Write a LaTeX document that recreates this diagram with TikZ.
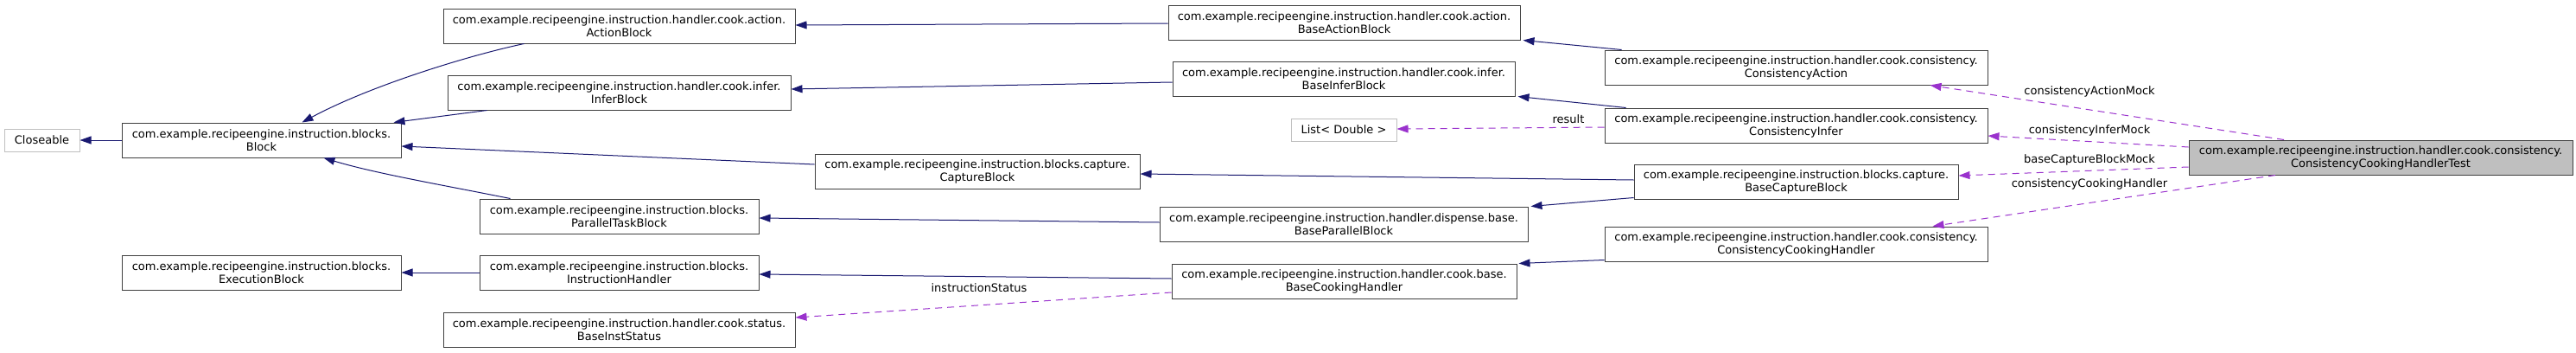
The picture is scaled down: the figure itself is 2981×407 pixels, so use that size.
\documentclass[tikz,border=0pt]{standalone}
\usepackage{fontspec}
\setmainfont{DejaVu Sans}
\usetikzlibrary{arrows.meta}
\definecolor{edgeblue}{HTML}{191970}
\definecolor{edgepurple}{HTML}{9A32CD}
\definecolor{boxborder}{HTML}{404040}
\definecolor{greyborder}{HTML}{BFBFBF}
\definecolor{testfill}{HTML}{BFBFBF}
\begin{document}
\begin{tikzpicture}[x=1pt,y=-1pt,
  every node/.style={font=\fontsize{13}{15}\selectfont, inner sep=0pt, align=center},
  cls/.style={draw=boxborder, line width=1pt, fill=white, minimum height=40pt},
  ext/.style={draw=greyborder, line width=1pt, fill=white, minimum height=26pt},
  inh/.style={draw=edgeblue, line width=1pt, -{Triangle[length=13pt,width=9pt]}, fill=none},
  use/.style={draw=edgepurple, line width=1pt, dash pattern=on 8pt off 6pt, -{Triangle[length=13pt,width=9pt]}},
  lbl/.style={fill=none, draw=none}
]
\useasboundingbox (0,0) rectangle (2981,407);

% column 0
\node[ext, minimum width=87pt] (closeable) at (48.5,162) {Closeable};
% column 1
\node[cls, minimum width=323pt] (block) at (302.5,162) {com.example.recipeengine.instruction.blocks.\\Block};
\node[cls, minimum width=323pt] (execblock) at (302.5,315) {com.example.recipeengine.instruction.blocks.\\ExecutionBlock};
% column 2
\node[cls, minimum width=407pt] (actionblock) at (716.5,30) {com.example.recipeengine.instruction.handler.cook.action.\\ActionBlock};
\node[cls, minimum width=397pt] (inferblock) at (716.5,107) {com.example.recipeengine.instruction.handler.cook.infer.\\InferBlock};
\node[cls, minimum width=323pt] (paralleltask) at (716.5,250) {com.example.recipeengine.instruction.blocks.\\ParallelTaskBlock};
\node[cls, minimum width=323pt] (instrhandler) at (716.5,315) {com.example.recipeengine.instruction.blocks.\\InstructionHandler};
\node[cls, minimum width=407pt] (baseinststatus) at (716.5,381) {com.example.recipeengine.instruction.handler.cook.status.\\BaseInstStatus};
\node[cls, minimum width=376pt] (captureblock) at (1131,198) {com.example.recipeengine.instruction.blocks.capture.\\CaptureBlock};
% column 3
\node[cls, minimum width=407pt] (baseaction) at (1555.5,26) {com.example.recipeengine.instruction.handler.cook.action.\\BaseActionBlock};
\node[cls, minimum width=396pt] (baseinfer) at (1555,91) {com.example.recipeengine.instruction.handler.cook.infer.\\BaseInferBlock};
\node[ext, minimum width=122pt] (listdouble) at (1555,150) {List< Double >};
\node[cls, minimum width=426pt] (baseparallel) at (1555,259) {com.example.recipeengine.instruction.handler.dispense.base.\\BaseParallelBlock};
\node[cls, minimum width=399pt] (basecooking) at (1555.5,325) {com.example.recipeengine.instruction.handler.cook.base.\\BaseCookingHandler};
% column 4
\node[cls, minimum width=443pt] (consaction) at (2078.5,78) {com.example.recipeengine.instruction.handler.cook.consistency.\\ConsistencyAction};
\node[cls, minimum width=443pt] (consinfer) at (2078.5,145) {com.example.recipeengine.instruction.handler.cook.consistency.\\ConsistencyInfer};
\node[cls, minimum width=375pt] (basecapture) at (2078.5,210) {com.example.recipeengine.instruction.blocks.capture.\\BaseCaptureBlock};
\node[cls, minimum width=443pt] (conscooking) at (2078.5,282) {com.example.recipeengine.instruction.handler.cook.consistency.\\ConsistencyCookingHandler};
% column 5
\node[cls, fill=testfill, minimum width=444pt] (test) at (2755,182) {com.example.recipeengine.instruction.handler.cook.consistency.\\ConsistencyCookingHandlerTest};

% inheritance edges
\draw[inh] (block.west) -- (closeable.east);
\draw[inh] ([xshift=-110pt]actionblock.south) .. controls +(-66,14) and +(78,-42) .. ([xshift=47pt]block.north);
\draw[inh] ([xshift=-153pt]inferblock.south) -- ([xshift=-9pt]block.north east);
\draw[inh] ([yshift=8pt]captureblock.west) -- ([yshift=-7pt]block.east);
\draw[inh] ([xshift=-126pt]paralleltask.north) .. controls +(-80,-16) and +(60,18) .. ([xshift=72pt]block.south);
\draw[inh] (instrhandler.west) -- (execblock.east);
\draw[inh] ([yshift=-1pt]baseaction.west) -- ([yshift=1pt]actionblock.east);
\draw[inh] ([yshift=-4pt]baseinfer.west) -- ([yshift=4pt]inferblock.east);
\draw[inh] ([yshift=2pt]basecapture.west) -- ([yshift=-3pt]captureblock.east);
\draw[inh] ([yshift=2pt]baseparallel.west) -- ([yshift=-2pt]paralleltask.east);
\draw[inh] ([yshift=3pt]basecooking.west) -- ([yshift=-2pt]instrhandler.east);
\draw[inh] ([xshift=20pt]consaction.north west) -- ([xshift=3pt]baseaction.south east);
\draw[inh] ([xshift=25pt]consinfer.north west) -- ([xshift=3pt]baseinfer.south east);
\draw[inh] ([yshift=2pt]basecapture.south west) -- ([xshift=3pt]baseparallel.north east);
\draw[inh] ([yshift=2pt]conscooking.south west) -- ([xshift=2pt]basecooking.north east);

% usage edges
\draw[use] ([yshift=-13pt]basecooking.west) -- ([yshift=14pt]baseinststatus.east);
\node[lbl] (lblstatus) at (1133,333) {instructionStatus};
\draw[use] ([yshift=-2pt]consinfer.west) -- ([yshift=1pt]listdouble.east);
\node[lbl] (lblresult) at (1815,138) {result};
\draw[use] ([xshift=-112pt]test.north) -- ([xshift=155pt]consaction.south);
\node[lbl] (lblaction) at (2418,106) {consistencyActionMock};
\draw[use] ([yshift=12pt]test.west) -- ([yshift=-12pt]consinfer.east);
\node[lbl] (lblinfer) at (2418,151) {consistencyInferMock};
\draw[use] ([yshift=-11pt]test.west) -- ([yshift=7pt]basecapture.east);
\node[lbl] (lblcapture) at (2418,185) {baseCaptureBlockMock};
\draw[use] ([xshift=-122pt]test.south) -- ([xshift=158pt]conscooking.north);
\node[lbl] (lblcooking) at (2418,213) {consistencyCookingHandler};
\end{tikzpicture}
\end{document}
